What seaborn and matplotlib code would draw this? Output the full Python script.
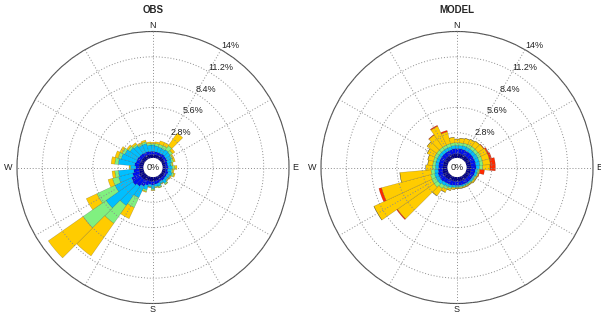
import numpy as np
import matplotlib
matplotlib.use('Agg')
import matplotlib.pyplot as plt
import seaborn as sns

# direction bins (deg, clockwise from north) and speed-class frequencies (%)
directions = list(range(0, 360, 10))
ring_ticks = [2.8, 5.6, 8.4, 11.2, 14]
ring_labels = ['2.8%', '5.6%', '8.4%', '11.2%', '14%']
compass = ['N', 'E', 'S', 'W']

obs_navy = [0.4, 0.4, 0.4, 0.4, 0.45, 0.4, 0.4, 0.35, 0.35, 0.35, 0.35, 0.4,
            0.4, 0.4, 0.4, 0.4, 0.45, 0.45, 0.5, 0.5, 0.5, 0.55, 0.6, 0.6,
            0.6, 0.5, 0.5, 0.45, 0.5, 0.45, 0.45, 0.45, 0.45, 0.45, 0.45, 0.4]
obs_blue = [0.35, 0.3, 0.3, 0.3, 0.3, 0.3, 0.3, 0.25, 0.25, 0.3, 0.25, 0.3,
            0.25, 0.25, 0.3, 0.25, 0.3, 0.35, 0.4, 0.35, 0.5, 0.7, 0.9, 1.1,
            1.0, 0.8, 0.6, 0.4, 0.5, 0.45, 0.45, 0.4, 0.4, 0.35, 0.35, 0.35]
obs_cyan = [0.7, 0.65, 0.6, 0.55, 0.6, 0.6, 0.5, 0.5, 0.35, 0.45, 0.4, 0.45,
            0.35, 0.3, 0.4, 0.25, 0.35, 0.25, 0.4, 0.25, 0.5, 1.4, 2.6, 3.6,
            2.0, 1.6, 1.7, 0.55, 1.8, 1.7, 1.5, 1.2, 1.05, 0.9, 0.9, 0.7]
obs_green = [0.15, 0.25, 0.3, 0.35, 0.55, 0.3, 0.15, 0.2, 0.15, 0.25, 0.15, 0.2,
             0.1, 0.1, 0.15, 0.05, 0.15, 0.1, 0.15, 0.05, 0.2, 1.2, 2.4, 3.1,
             2.2, 0.7, 0.4, 0.1, 0.4, 0.35, 0.3, 0.25, 0.2, 0.15, 0.2, 0.2]
obs_yellow = [0.15, 0.2, 0.4, 0.4, 1.7, 0.3, 0.15, 0.2, 0.1, 0.25, 0.15, 0.15,
              0.1, 0.05, 0.05, 0.05, 0.05, 0.05, 0.05, 0.05, 0.1, 1.35, 4.4, 4.7,
              1.3, 0.5, 0.3, 0.1, 0.4, 0.35, 0.3, 0.2, 0.2, 0.15, 0.2, 0.15]

mod_navy = [0.5, 0.5, 0.5, 0.5, 0.5, 0.5, 0.5, 0.5, 0.5, 0.5, 0.5, 0.5,
            0.5, 0.5, 0.5, 0.5, 0.5, 0.5, 0.5, 0.5, 0.5, 0.5, 0.55, 0.6,
            0.6, 0.6, 0.55, 0.5, 0.5, 0.5, 0.5, 0.5, 0.5, 0.5, 0.5, 0.5]
mod_blue = [0.55, 0.55, 0.55, 0.55, 0.55, 0.55, 0.55, 0.55, 0.55, 0.55, 0.5, 0.5,
            0.45, 0.45, 0.45, 0.45, 0.45, 0.45, 0.45, 0.45, 0.5, 0.5, 0.5, 0.55,
            0.55, 0.55, 0.5, 0.5, 0.5, 0.5, 0.5, 0.5, 0.5, 0.5, 0.5, 0.55]
mod_cyan = [0.35, 0.35, 0.4, 0.4, 0.4, 0.4, 0.45, 0.45, 0.45, 0.4, 0.25, 0.25,
            0.2, 0.2, 0.15, 0.15, 0.15, 0.15, 0.15, 0.2, 0.25, 0.3, 0.35, 0.4,
            0.4, 0.4, 0.4, 0.35, 0.35, 0.35, 0.35, 0.35, 0.35, 0.35, 0.35, 0.35]
mod_green = [0.3, 0.3, 0.3, 0.35, 0.35, 0.35, 0.35, 0.35, 0.35, 0.35, 0.15, 0.1,
             0.1, 0.1, 0.1, 0.1, 0.1, 0.1, 0.1, 0.1, 0.15, 0.3, 0.4, 0.5,
             0.5, 0.45, 0.4, 0.35, 0.3, 0.3, 0.35, 0.35, 0.35, 0.35, 0.35, 0.3]
mod_yellow = [0.4, 0.5, 0.55, 0.6, 0.7, 0.75, 0.8, 0.8, 0.8, 0.8, 0.1, 0.1,
              0.15, 0.15, 0.1, 0.1, 0.1, 0.1, 0.1, 0.15, 0.2, 0.4, 1.0, 4.95,
              7.05, 5.6, 3.45, 0.7, 0.55, 0.65, 0.9, 1.3, 1.65, 2.3, 1.35, 0.6]
mod_red = [0, 0, 0, 0, 0, 0.05, 0.15, 0.25, 0.55, 0.6, 0.5, 0.05,
           0, 0, 0, 0, 0, 0, 0, 0, 0, 0, 0, 0.1,
           0, 0.3, 0, 0, 0, 0, 0, 0, 0.05, 0.1, 0.15, 0]

class_colors = ['#00008f', '#0010f0', '#00bfff', '#80f080', '#ffcc00', '#ff2a00']

sns.set_theme(style='white')
plt.rcParams['font.family'] = ['Liberation Sans', 'DejaVu Sans']

fig = plt.figure(figsize=(6.01, 3.15), dpi=100)
W, H = 601, 315
R = 136       # outer circle radius, px
HOLE = 9.5    # center hole radius, px
rmax = 14


def draw_rose(cx, cy, classes, title):
    ax = fig.add_axes([(cx - R) / W, (H - cy - R) / H, 2 * R / W, 2 * R / H],
                      projection='polar')
    ax.set_theta_zero_location('N')
    ax.set_theta_direction(-1)
    theta = np.deg2rad(directions)
    bottom = np.zeros(len(directions))
    for vals, col in zip(classes, class_colors):
        ax.bar(theta, vals, width=np.deg2rad(10), bottom=bottom, color=col,
               edgecolor=(0, 0, 0, 0.3), linewidth=0.3, align='center')
        bottom += np.array(vals)
    ax.set_ylim(0, rmax)
    ax.set_rorigin(-rmax * HOLE / (R - HOLE))
    ax.set_yticks(ring_ticks)
    ax.set_yticklabels([])
    ax.set_xticks(np.deg2rad(range(0, 360, 30)))
    ax.set_xticklabels([])
    ax.set_axisbelow(False)
    ax.grid(True, color='#8c8c8c', linestyle=(0, (1, 2)), linewidth=0.7)
    ax.spines['polar'].set_color('#505050')
    ax.spines['polar'].set_linewidth(0.8)
    ax.spines['inner'].set_color('none')
    for r, lab in zip(ring_ticks, ring_labels):
        ax.text(np.deg2rad(30), r, lab, ha='left', va='bottom', fontsize=6.5,
                color='#222222')
    ax.text(0.5, 0.5, '0%', transform=ax.transAxes, ha='center', va='center',
            fontsize=6.5, color='#222222')
    # compass letters just outside the outer circle
    off = 6.5 / (2 * R)
    spots = [(0.5, 1 + off), (1 + off, 0.5), (0.5, -off), (-off - 0.008, 0.5)]
    for lab, (x, y) in zip(compass, spots):
        ax.text(x, y, lab, transform=ax.transAxes, ha='center', va='center',
                fontsize=6.5, color='#222222')
    fig.text(cx / W, 1 - 10 / H, title, ha='center', va='center',
             fontsize=7, fontweight='bold')
    return ax


draw_rose(153, 167.5, [obs_navy, obs_blue, obs_cyan, obs_green, obs_yellow], 'OBS')
draw_rose(457, 167.5, [mod_navy, mod_blue, mod_cyan, mod_green, mod_yellow, mod_red], 'MODEL')

fig.savefig('out.png', dpi=100, facecolor='white')
